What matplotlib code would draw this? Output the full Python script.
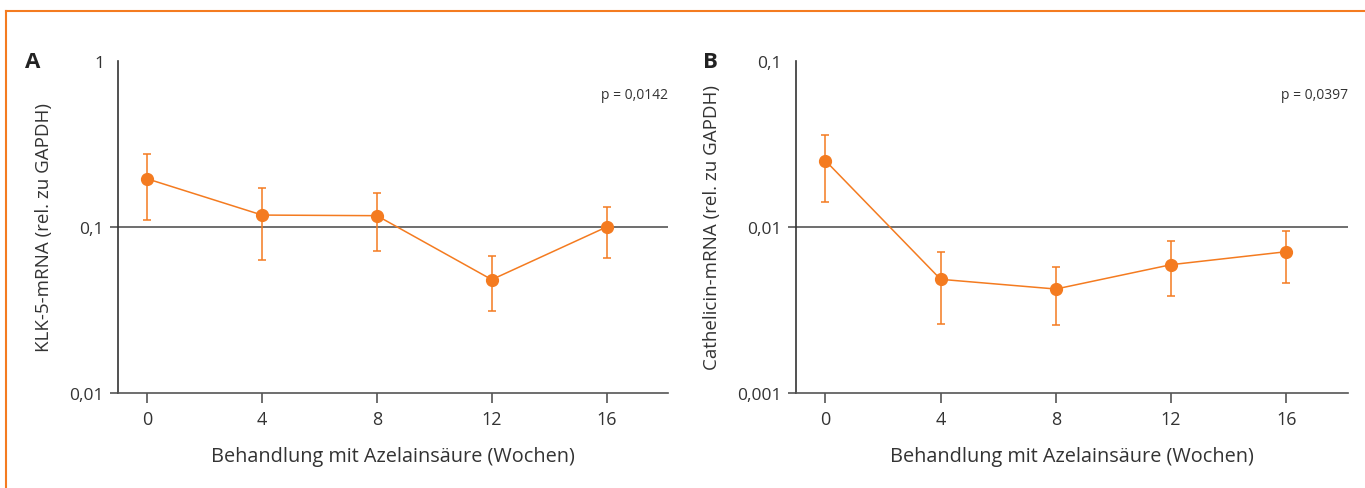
import matplotlib
matplotlib.use('Agg')
from matplotlib import pyplot as plt
from matplotlib.lines import Line2D

plt.rcParams['font.family'] = ['Open Sans', 'DejaVu Sans']

orange = '#f47b20'
dark = '#333333'

wochen = [0, 4, 8, 12, 16]

# Panel A: KLK-5
klk5      = [0.195, 0.118, 0.117, 0.0482, 0.100]
klk5_hi   = [0.275, 0.172, 0.161, 0.0666, 0.1325]
klk5_lo   = [0.110, 0.0636, 0.0714, 0.0313, 0.065]

# Panel B: Cathelicidin
cath      = [0.0251, 0.00484, 0.00423, 0.00593, 0.0071]
cath_hi   = [0.0357, 0.00705, 0.00577, 0.0082, 0.00946]
cath_lo   = [0.0142, 0.00261, 0.00257, 0.00386, 0.00462]

panels = [
    ('A', klk5, klk5_lo, klk5_hi, [0.01, 0.1, 1], ['0,01', '0,1', '1'], 0.1,
     'KLK-5-mRNA (rel. zu GAPDH)', 'p = 0,0142'),
    ('B', cath, cath_lo, cath_hi, [0.001, 0.01, 0.1], ['0,001', '0,01', '0,1'], 0.01,
     'Cathelicin-mRNA (rel. zu GAPDH)', 'p = 0,0397'),
]

W, H = 1365, 489
fig = plt.figure(figsize=(W / 100, H / 100), dpi=100)

boxes = [(118, 668), (796, 1348)]
top, bottom = 62, 394

for (letter, y, lo, hi, yt, ytl, ref, ylab, ptxt), (x0, x1) in zip(panels, boxes):
    ax = fig.add_axes([x0 / W, 1 - bottom / H, (x1 - x0) / W, (bottom - top) / H])
    ax.set_yscale('log')
    ax.set_ylim(yt[0], yt[-1])
    ax.set_xlim(-1.02, 18.14)

    ax.axhline(ref, color='#555555', lw=1.2, zorder=1)

    yerr = [[v - l for v, l in zip(y, lo)], [h - v for v, h in zip(y, hi)]]
    ax.errorbar(wochen, y, yerr=yerr, fmt='o-', color=orange, ms=8.5, lw=1.1,
                elinewidth=1.1, capsize=3, capthick=1.1, zorder=3)

    for s in ['top', 'right']:
        ax.spines[s].set_visible(False)
    ax.spines['left'].set_color(dark)
    ax.spines['left'].set_linewidth(1.2)
    ax.spines['bottom'].set_color('#555555')
    ax.spines['bottom'].set_linewidth(1.2)

    ax.set_xticks(wochen)
    ax.set_xticklabels([str(w) for w in wochen])
    ax.set_yticks(yt)
    ax.set_yticklabels(ytl)
    ax.yaxis.set_minor_locator(matplotlib.ticker.NullLocator())
    ax.tick_params(axis='x', direction='out', length=7.5, width=1.2, color='#555555',
                   labelsize=13, labelcolor=dark, pad=5)
    ax.tick_params(axis='y', direction='out', length=6, width=1.2, color='#555555',
                   labelsize=12.5, labelcolor=dark, pad=4)
    ax.yaxis.get_major_ticks()[-1].tick1line.set_visible(False)

    ax.set_xlabel('Behandlung mit Azelainsäure (Wochen)', fontsize=14.3, color=dark, labelpad=13)
    ax.set_ylabel(ylab, fontsize=13.5, color=dark, labelpad=12)

    ax.text(1.0, 0.9, ptxt, transform=ax.transAxes, ha='right', va='center',
            fontsize=10, color=dark)
    fig.text((x0 - 93) / W, 1 - 62 / H, letter, fontsize=16, weight='bold',
             color='#222222', ha='left', va='center')

# orange frame (top and left edges)
fx, fy = 5.5 / W, 1 - 11.5 / H
fig.add_artist(Line2D([fx, 1.01], [fy, fy], color=orange, lw=1.5, transform=fig.transFigure))
fig.add_artist(Line2D([fx, fx], [-0.01, fy], color=orange, lw=1.5, transform=fig.transFigure))

fig.savefig('out.png', dpi=100)
plt.close(fig)
